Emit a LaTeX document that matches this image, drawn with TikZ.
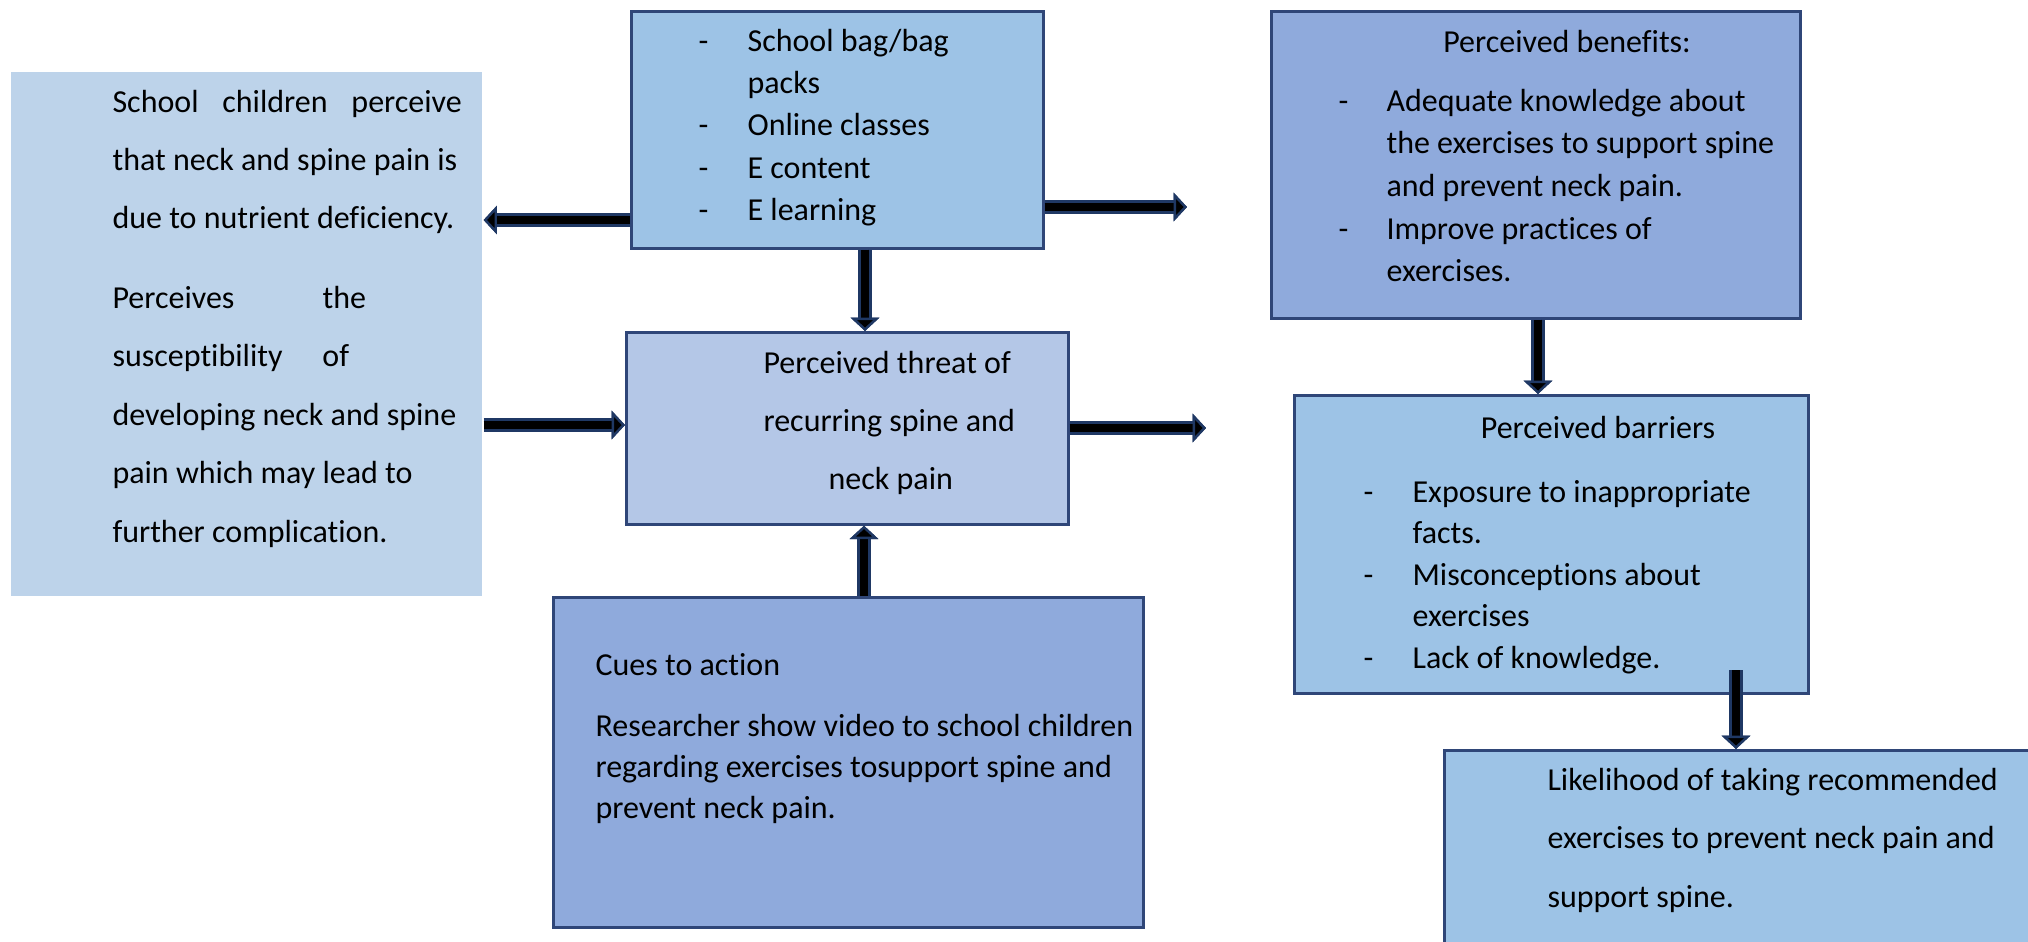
\documentclass[tikz,border=0pt]{standalone}
\usepackage{fontspec}
\setmainfont{Carlito}[Ligatures=NoCommon]
\usetikzlibrary{arrows.meta}
\definecolor{paleblue}{RGB}{189,211,234}
\definecolor{midblue}{RGB}{157,195,230}
\definecolor{greyblue}{RGB}{180,199,231}
\definecolor{deepblue}{RGB}{143,170,220}
\definecolor{boxline}{RGB}{47,70,120}
\definecolor{arrowline}{RGB}{31,56,100}
\tikzset{
  box/.style={draw=boxline, line width=1pt, anchor=north west, inner sep=0pt},
  txt/.style={anchor=base west, inner sep=0pt},
  fatarrow/.style={->, line width=3.2pt, draw=black,
    preaction={draw=arrowline, line width=5pt, ->}},
  >={Triangle[length=5pt,width=10.6pt,line width=0.9pt,fill=black,color=arrowline]}
}
\begin{document}
\begin{tikzpicture}[x=0.375pt, y=-0.375pt]
\useasboundingbox (0,0) rectangle (2028,941);

% boxes
\node[box, draw=none, fill=paleblue, minimum width=176.6pt, minimum height=196.5pt] (leftbox) at (10,71) {};
\node[box, fill=midblue, minimum width=154.5pt, minimum height=88.9pt] (bagbox) at (630,10) {};
\node[box, fill=greyblue, minimum width=165.75pt, minimum height=72pt] (threatbox) at (625,331) {};
\node[box, fill=deepblue, minimum width=221.25pt, minimum height=123.75pt] (cuesbox) at (552,596) {};
\node[box, fill=deepblue, minimum width=198.4pt, minimum height=115.1pt] (benefitsbox) at (1270,10) {};
\node[box, fill=midblue, minimum width=192.75pt, minimum height=111.75pt] (barriersbox) at (1293,394) {};
\node[box, fill=midblue, minimum width=225.75pt, minimum height=79.1pt] (likelybox) at (1443,749) {};

% texts
\node[txt, font=\fontsize{12}{21.9}\selectfont] (lefttext) at (112,112) {\begin{tabular}[t]{@{}l@{}}
\makebox[131pt][s]{School children perceive}\\
that neck and spine pain is\\
due to nutrient deficiency.\\[8pt]
\makebox[78.75pt][l]{Perceives}the\\
\makebox[78.75pt][l]{susceptibility}of\\
developing neck and spine\\
pain which may lead to\\
further complication.
\end{tabular}};

\node[txt, font=\fontsize{12}{15.9}\selectfont] (bagtext) at (698,51) {\begin{tabular}[t]{@{}p{18.4pt}@{}l@{}}
- & School bag/bag\\
  & packs\\
- & Online classes\\
- & E content\\
- & E learning
\end{tabular}};

\node[txt, font=\fontsize{12}{21.9}\selectfont] (threattext) at (763,373) {\begin{tabular}[t]{@{}l@{}}
Perceived threat of\\
recurring spine and\\
\hspace{24.4pt}neck pain
\end{tabular}};

\node[txt, font=\fontsize{12}{15.4}\selectfont] (cuestext) at (595,675) {\begin{tabular}[t]{@{}l@{}}
Cues to action\\[7.5pt]
Researcher show video to school children\\
regarding exercises tosupport spine and\\
prevent neck pain.
\end{tabular}};

\node[txt, anchor=base, font=\fontsize{12}{16}\selectfont] (benefitstitle) at (1567,52) {Perceived benefits:};
\node[txt, font=\fontsize{12}{16}\selectfont] (benefitstext) at (1338,111) {\begin{tabular}[t]{@{}p{18pt}@{}l@{}}
- & Adequate knowledge about\\
  & the exercises to support spine\\
  & and prevent neck pain.\\
- & Improve practices of\\
  & exercises.
\end{tabular}};

\node[txt, anchor=base, font=\fontsize{12}{15.6}\selectfont] (barrierstitle) at (1598,438) {Perceived barriers};
\node[txt, font=\fontsize{12}{15.6}\selectfont] (barrierstext) at (1363,502) {\begin{tabular}[t]{@{}p{18.4pt}@{}l@{}}
- & Exposure to inappropriate\\
  & facts.\\
- & Misconceptions about\\
  & exercises\\
- & Lack of knowledge.
\end{tabular}};

\node[txt, font=\fontsize{12}{22}\selectfont] (likelytext) at (1547,790) {\begin{tabular}[t]{@{}l@{}}
Likelihood of taking recommended\\
exercises to prevent neck pain and\\
support spine.
\end{tabular}};

% arrows
\coordinate (bagout) at (1187,207);
\coordinate (threatout) at (1206,428);
\coordinate (barrierstail) at (1736,670);
\draw[fatarrow] (bagbox.west |- 0,220) -- (leftbox.east |- 0,220);
\draw[fatarrow] (bagbox.east |- bagout) -- (bagout);
\draw[fatarrow] (bagbox.south -| 865,0) -- (threatbox.north -| 865,0);
\draw[fatarrow] (leftbox.east |- 0,425) -- (threatbox.west |- 0,425);
\draw[fatarrow] (threatbox.east |- threatout) -- (threatout);
\draw[fatarrow] (cuesbox.north -| 864,0) -- (threatbox.south -| 864,0);
\draw[fatarrow] (benefitsbox.south -| 1538,0) -- (barriersbox.north -| 1538,0);
\draw[fatarrow] (barrierstail) -- (likelybox.north -| barrierstail);
\end{tikzpicture}
\end{document}
